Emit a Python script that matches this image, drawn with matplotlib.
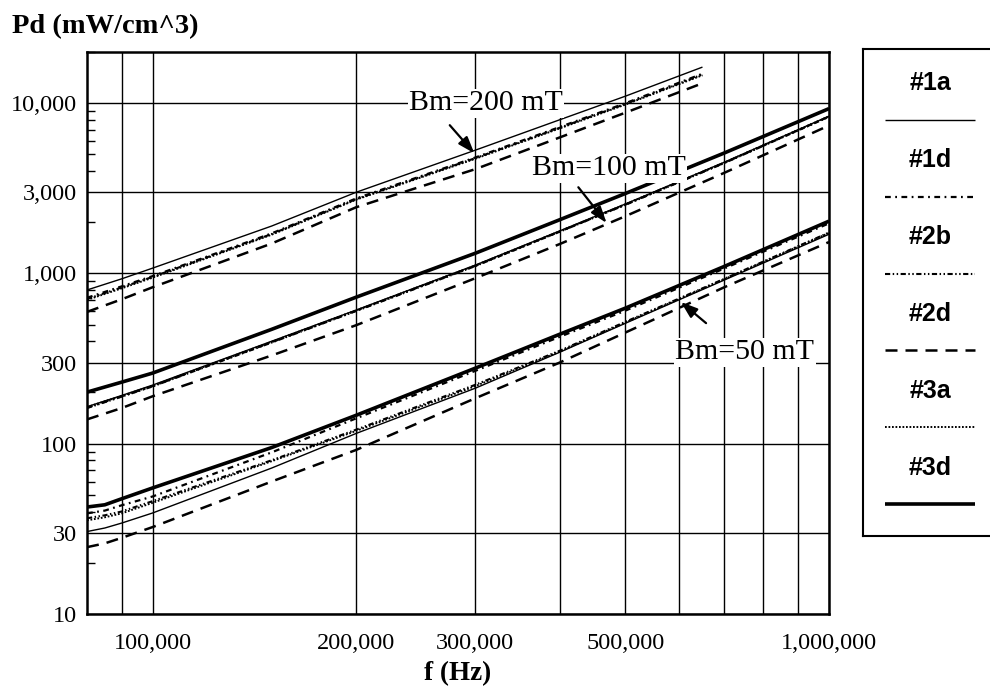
import matplotlib.pyplot as plt
import matplotlib.ticker as mticker

plt.rcParams['font.family'] = ['Liberation Serif', 'DejaVu Serif']

# series names as in the legend
series = ["#1a", "#1d", "#2b", "#2d", "#3a", "#3d"]

# Bm = 200 mT  (Pd in mW/cm^3); #3d was not drawn for this flux level
series_200 = ["#1a", "#1d", "#2b", "#2d", "#3a"]
freq_200 = [80e3, 90e3, 100e3, 150e3, 200e3, 300e3, 400e3, 500e3, 650e3]
pd_200 = [
    [800, 930, 1075, 1900, 3000, 5300, 8000, 11000, 16300],   # 1a
    [720, 840, 965, 1720, 2760, 4800, 7250, 10000, 14900],    # 1d
    [708, 828, 955, 1705, 2735, 4760, 7180, 9900, 14750],     # 2b
    [595, 705, 830, 1500, 2450, 4100, 6300, 8800, 13100],     # 2d
    [700, 818, 945, 1690, 2715, 4720, 7120, 9820, 14600],     # 3a
]

# Bm = 100 mT
freq_100 = [80e3, 90e3, 100e3, 150e3, 200e3, 300e3, 400e3, 500e3, 700e3, 1000e3]
pd_100 = [
    [165, 192, 221, 400, 610, 1120, 1780, 2560, 4500, 8400],  # 1a
    [163, 190, 218, 395, 605, 1110, 1765, 2540, 4470, 8350],  # 1d
    [162, 189, 217, 393, 602, 1105, 1760, 2530, 4450, 8320],  # 2b
    [139, 162, 190, 330, 497, 938, 1490, 2170, 3900, 7400],   # 2d
    [164, 191, 219, 397, 607, 1115, 1770, 2550, 4480, 8380],  # 3a
    [201, 230, 260, 470, 726, 1315, 2070, 2950, 5100, 9300],  # 3d
]

# Bm = 50 mT
freq_50 = [80e3, 85e3, 90e3, 100e3, 150e3, 200e3, 300e3, 400e3, 500e3, 700e3, 1000e3]
pd_50 = [
    [30.5, 32, 34.2, 39.2, 72, 115, 212, 345, 510, 915, 1700],  # 1a
    [39, 40.5, 43.5, 49, 89, 141, 268, 425, 605, 1070, 1970],   # 1d
    [36.5, 38, 40, 46, 80, 121, 222, 352, 520, 930, 1740],      # 2b
    [24.7, 26, 28, 32.4, 60, 92, 185, 300, 450, 830, 1530],     # 2d
    [35.5, 37, 39, 45, 79, 119, 218, 348, 515, 925, 1730],      # 3a
    [42.5, 43.8, 47.5, 55, 95, 147, 278, 440, 626, 1100, 2030], # 3d
]

y_ticks = [10, 30, 100, 300, 1000, 3000, 10000]
x_grid = [90e3, 100e3, 200e3, 300e3, 400e3, 500e3, 600e3, 700e3, 800e3, 900e3, 1000e3]
x_labeled = [100e3, 200e3, 300e3, 500e3, 1000e3]

styles = {
    "#1a": dict(ls="-", lw=1.0),
    "#1d": dict(ls=(0, (2.6, 2.0, 0.8, 2.0)), lw=1.6),
    "#2b": dict(ls=(0, (2.5, 1.2, 0.7, 1.2, 0.7, 1.2)), lw=1.5),
    "#2d": dict(ls=(0, (4.8, 3.2)), lw=1.8),
    "#3a": dict(ls=(0, (0.9, 0.9)), lw=1.4),
    "#3d": dict(ls="-", lw=2.6),
}

fig = plt.figure(figsize=(9.9, 6.92), dpi=100)
ax = fig.add_axes([0.0879, 0.1127, 0.7495, 0.8122])
ax.set_xscale("log")
ax.set_yscale("log")
ax.set_xlim(80e3, 1e6)
ax.set_ylim(10, 20000)

for freq, names, group in [(freq_200, series_200, pd_200),
                           (freq_100, series, pd_100),
                           (freq_50, series, pd_50)]:
    for name, vals in zip(names, group):
        ax.plot(freq, vals, color="k", solid_capstyle="butt", zorder=3, **styles[name])

# axes, grid and ticks
ax.yaxis.set_major_locator(mticker.FixedLocator(y_ticks))
ax.yaxis.set_major_formatter(mticker.FuncFormatter(lambda v, p: f"{v:,.0f}"))
ax.yaxis.set_minor_locator(mticker.LogLocator(base=10, subs=(2, 4, 5, 6, 7, 8, 9)))
ax.yaxis.set_minor_formatter(mticker.NullFormatter())
ax.xaxis.set_major_locator(mticker.FixedLocator(x_grid))
ax.xaxis.set_major_formatter(mticker.FuncFormatter(
    lambda v, p: f"{v:,.0f}" if any(abs(v - t) < 1 for t in x_labeled) else ""))
ax.xaxis.set_minor_locator(mticker.NullLocator())
ax.tick_params(axis="both", which="major", length=0, labelsize=17.5)
ax.tick_params(axis="x", which="major", pad=14)
ax.tick_params(axis="y", which="major", pad=7)
ax.tick_params(axis="y", which="minor", direction="in", length=6, width=1.0, left=True)
ax.grid(True, which="major", color="k", lw=1.0, zorder=1)
for s in ax.spines.values():
    s.set_linewidth(1.8)

ax.set_xlabel("f (Hz)", fontsize=19.5, fontweight="bold", labelpad=5)
fig.text(0.012, 0.962, "Pd (mW/cm^3)", fontsize=20.5, fontweight="bold", ha="left", va="center")

# annotations
box = dict(facecolor="white", edgecolor="none", pad=1)
arrow = dict(arrowstyle="-|>,head_length=1.0,head_width=0.35", color="k", lw=1.6,
             shrinkA=0, shrinkB=0)
ax.text(311e3, 10000, "Bm=200 mT", fontsize=21.5, ha="center", va="center", bbox=box, zorder=5)
ax.annotate("", xy=(299e3, 5080), xytext=(275e3, 7430), arrowprops=arrow, zorder=5)
ax.text(473e3, 4150, "Bm=100 mT", fontsize=21.5, ha="center", va="center", bbox=box, zorder=5)
ax.annotate("", xy=(469e3, 1980), xytext=(426e3, 3210), arrowprops=arrow, zorder=5)
ax.text(751e3, 345, "Bm=50 mT", fontsize=21.5, ha="center", va="center", bbox=box, zorder=5)
ax.annotate("", xy=(604e3, 680), xytext=(658e3, 511), arrowprops=arrow, zorder=5)

# legend box with labels above line samples
lax = fig.add_axes([0.872, 0.2254, 0.2, 0.7037])
lax.set_xlim(0, 1)
lax.set_ylim(0, 1)
lax.set_xticks([])
lax.set_yticks([])
for s in lax.spines.values():
    s.set_linewidth(1.5)
for i, name in enumerate(series):
    ty = 0.93 - i * 0.158
    lax.text(0.338, ty, name, fontsize=18, fontweight="bold", ha="center", va="center",
             family=["Liberation Sans", "DejaVu Sans"])
    lax.plot([0.111, 0.566], [ty - 0.075, ty - 0.075], color="k", solid_capstyle="butt",
             **styles[name])

fig.savefig("out.png", dpi=100)
